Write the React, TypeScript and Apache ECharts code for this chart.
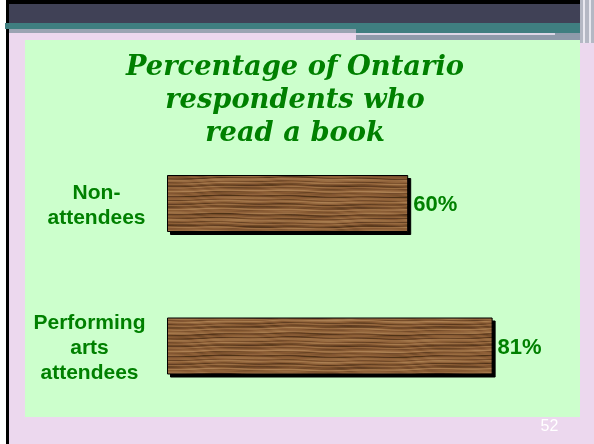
import React, { useEffect, useRef } from "react";
import * as echarts from "echarts";

const titleLines = ["Percentage of Ontario", "respondents who", "read a book"];
const categories = ["Non-\nattendees", "Performing\narts\nattendees"];
const values = [60, 81];
const labelShift = [0, 7];
const slideNumber = "52";

const GREEN = "#008000";

function makeWood(): string {
  const w = 500;
  const h = 80;
  const c = document.createElement("canvas");
  c.width = w;
  c.height = h;
  const ctx = c.getContext("2d");
  if (!ctx) return "";
  const img = ctx.createImageData(w, h);
  const P = (2 * Math.PI) / w;
  for (let y = 0; y < h; y++) {
    for (let x = 0; x < w; x++) {
      const yy = y + 0.9 * Math.sin(x * P * 2 + y * 0.05) + 0.4 * Math.sin(x * P * 7 + 1.1);
      let g =
        0.5 * Math.sin(yy * 1.7) +
        0.35 * Math.sin(yy * 0.63 + 1.3) +
        0.25 * Math.sin(yy * 3.1 + 0.4) +
        0.15 * Math.sin(yy * 5.3 + x * P * 9);
      g += 0.15 * Math.sin(x * P * 5 + y * 0.3);
      const t = Math.max(-1, Math.min(1, g / 1.1));
      let r, gg, b;
      if (t < 0) {
        const k = -t;
        r = 138 + (78 - 138) * k;
        gg = 92 + (48 - 92) * k;
        b = 52 + (24 - 52) * k;
      } else {
        const k = t;
        r = 138 + (172 - 138) * k;
        gg = 92 + (128 - 92) * k;
        b = 52 + (82 - 52) * k;
      }
      const i = (y * w + x) * 4;
      img.data[i] = r;
      img.data[i + 1] = gg;
      img.data[i + 2] = b;
      img.data[i + 3] = 255;
    }
  }
  ctx.putImageData(img, 0, 0);
  return c.toDataURL();
}

export default function App() {
  const ref = useRef<HTMLDivElement>(null);
  useEffect(() => {
    if (!ref.current) return;
    const chart = echarts.init(ref.current, null, { renderer: "svg" });
    const wood = makeWood();
    const bg: any[] = [
      { type: "rect", shape: { x: 0, y: 0, width: 594, height: 444 }, style: { fill: "#ffffff" }, z: 0 },
      { type: "rect", shape: { x: 9, y: 33, width: 585, height: 411 }, style: { fill: "#ECD8EE" }, z: 0 },
      { type: "rect", shape: { x: 6, y: 0, width: 574, height: 4 }, style: { fill: "#000000" }, z: 1 },
      { type: "rect", shape: { x: 6, y: 0, width: 3, height: 444 }, style: { fill: "#000000" }, z: 1 },
      { type: "rect", shape: { x: 9, y: 4, width: 571, height: 19 }, style: { fill: "#404156" }, z: 1 },
      { type: "rect", shape: { x: 5, y: 23, width: 575, height: 6 }, style: { fill: "#3F7E80" }, z: 1 },
      { type: "rect", shape: { x: 9, y: 29, width: 347, height: 4 }, style: { fill: "#9AA4B2" }, z: 1 },
      { type: "rect", shape: { x: 356, y: 29, width: 224, height: 4 }, style: { fill: "#3F7E80" }, z: 1 },
      { type: "rect", shape: { x: 356, y: 33, width: 224, height: 7 }, style: { fill: "#8E9AAA" }, z: 1 },
      { type: "rect", shape: { x: 356, y: 33, width: 199, height: 2 }, style: { fill: "#DCD6E6" }, z: 2 },
      { type: "rect", shape: { x: 580, y: 0, width: 14, height: 43 }, style: { fill: "#B4B8C4" }, z: 1 },
      { type: "rect", shape: { x: 583, y: 0, width: 2, height: 43 }, style: { fill: "#E8E8F0" }, z: 2 },
      { type: "rect", shape: { x: 589, y: 0, width: 2, height: 43 }, style: { fill: "#E8E8F0" }, z: 2 },
      { type: "rect", shape: { x: 25, y: 40, width: 555, height: 377 }, style: { fill: "#CCFFCC" }, z: 1 },
      {
        type: "text",
        x: 549.5,
        y: 425,
        style: {
          text: slideNumber,
          fill: "#ffffff",
          font: "16px 'Liberation Sans', Arial, sans-serif",
          align: "center",
          verticalAlign: "middle",
        },
        z: 3,
      },
      {
        type: "text",
        x: 295,
        y: 48,
        style: {
          text: titleLines.join("\n"),
          fill: GREEN,
          font: "italic bold 27.3px 'DejaVu Serif', serif",
          lineHeight: 33,
          align: "center",
          verticalAlign: "top",
        },
        z: 3,
      },
    ];
    const labelStyle = {
      color: GREEN,
      fontSize: 21,
      fontWeight: "bold",
      fontFamily: "'Liberation Sans', Arial, sans-serif",
      lineHeight: 25,
      align: "center",
    };
    chart.setOption({
      animation: false,
      graphic: { elements: bg.map((e) => ({ ...e, silent: true })) },
      grid: {
        left: 167,
        right: 25,
        top: 132.25,
        bottom: 26.75,
        containLabel: false,
        outerBoundsMode: "none",
      },
      xAxis: { type: "value", min: 0, max: 100, show: false },
      yAxis: {
        type: "category",
        inverse: true,
        z: 10,
        data: categories,
        axisLine: { show: false },
        axisTick: { show: false },
        splitLine: { show: false },
        axisLabel: {
          margin: 70.5,
          align: "center",
          ...labelStyle,
          formatter: (v: string) => {
            const i = categories.indexOf(v);
            const key = i === 0 ? "a" : "b";
            return v
              .split("\n")
              .map((line) => `{${key}|${line}}`)
              .join("\n");
          },
          rich: {
            a: { ...labelStyle },
            b: { ...labelStyle, padding: [0, labelShift[1] * 2, 0, 0] },
          },
        },
      },
      series: [
        {
          type: "bar",
          data: values,
          barWidth: 57,
          z: 5,
          itemStyle: {
            color: wood
              ? { image: wood, repeat: "repeat", imageWidth: 500, imageHeight: 80 }
              : "#8C5E36",
            borderColor: "#000000",
            borderWidth: 1,
            shadowColor: "#000000",
            shadowBlur: 0,
            shadowOffsetX: 3,
            shadowOffsetY: 3,
          },
          label: {
            show: true,
            position: "right",
            distance: 5,
            formatter: "{c}%",
            color: GREEN,
            fontSize: 22,
            fontWeight: "bold",
            fontFamily: "'Liberation Sans', Arial, sans-serif",
          },
        },
      ],
    });
    return () => chart.dispose();
  }, []);
  return (
    <div
      ref={ref}
      style={{ position: "fixed", left: 0, top: 0, width: 594, height: 444 }}
    />
  );
}
